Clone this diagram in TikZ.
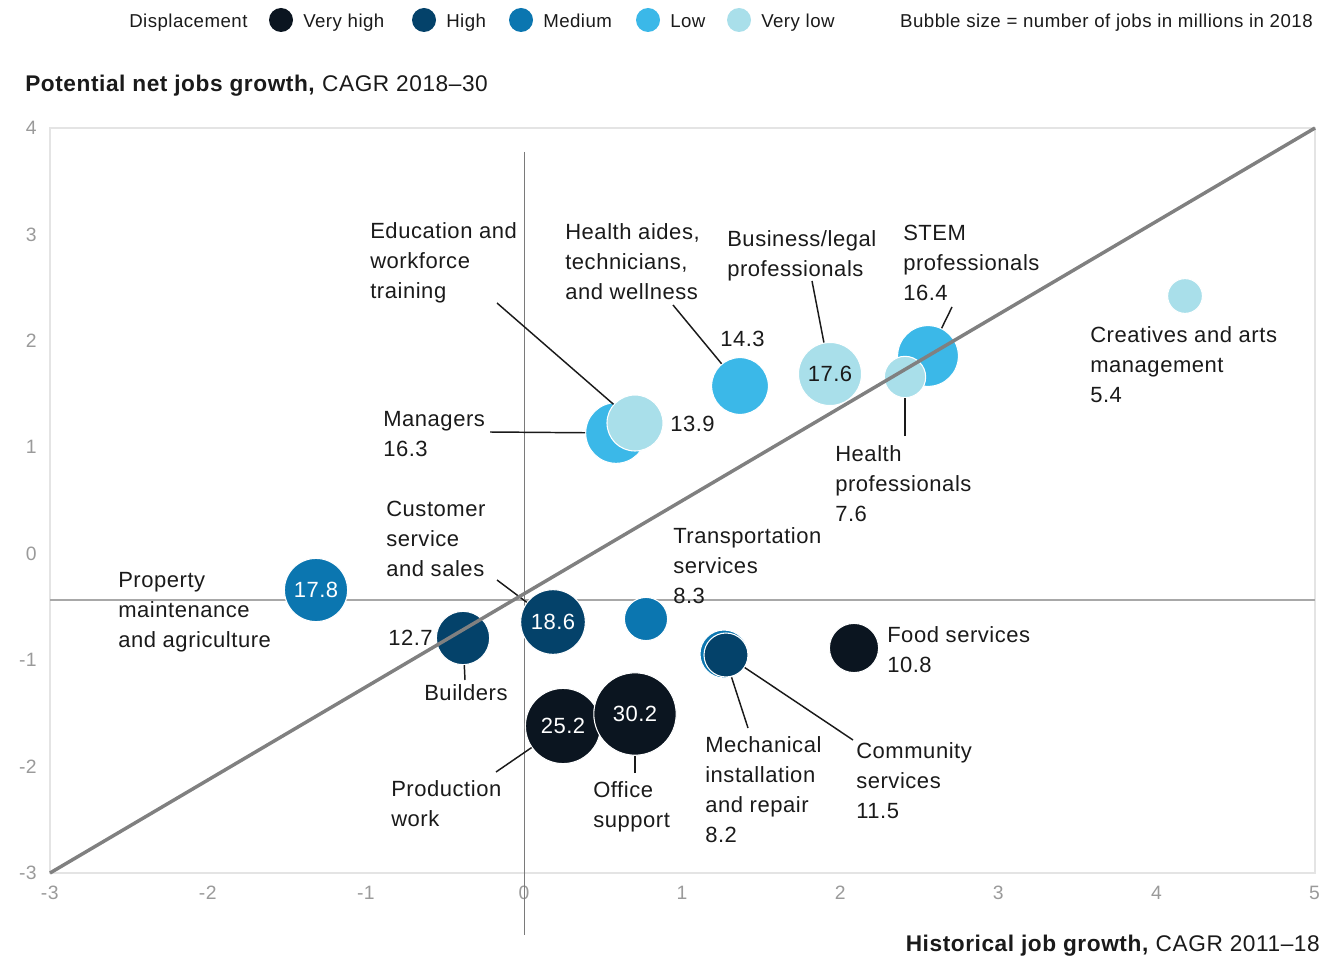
\documentclass[tikz,border=0pt]{standalone}
\usepackage{fontspec}
\setmainfont{Liberation Sans}[LetterSpace=2.5]
\usepackage{tikz}
\usetikzlibrary{positioning}
\definecolor{veryhigh}{HTML}{0B1520}
\definecolor{high}{HTML}{04426A}
\definecolor{medium}{HTML}{0B76B0}
\definecolor{low}{HTML}{3BB8E8}
\definecolor{verylow}{HTML}{A9DFEA}
\definecolor{ink}{HTML}{1A1A1A}
\definecolor{tickgray}{HTML}{9A9A9A}
\definecolor{framegray}{HTML}{E4E4E4}
\definecolor{axisgray}{HTML}{7A7A7A}
\definecolor{zerogray}{HTML}{A8A8A8}
\definecolor{diaggray}{HTML}{808080}
\newcommand{\lblfont}{\fontsize{16.5}{22.5}\selectfont}
\newcommand{\legfont}{\fontsize{14}{17}\selectfont}
\newcommand{\ttlfont}{\fontsize{17}{20}\selectfont}
\newcommand{\tickfont}{\fontsize{14.5}{16}\selectfont}

\begin{document}
\begin{tikzpicture}[x=0.75pt, y=-0.75pt,
    bubble/.style={circle, fill=#1, draw=white, line width=0.8pt, inner sep=0pt, text=white, font=\lblfont},
    lbl/.style={anchor=north west, align=left, inner sep=0pt, text=ink, font=\lblfont},
    leader/.style={draw=ink, line width=1.1pt},
    ticklabel/.style={inner sep=0pt, text=tickgray, font=\tickfont},
    legdot/.style={circle, fill=#1, inner sep=0pt, minimum size=18pt},
    legtext/.style={anchor=base west, inner sep=0pt, text=ink, font=\legfont}]
    \useasboundingbox (0,0) rectangle (1338,959);

    % legend and titles
    \node (displacement) [legtext] at (129,28) {Displacement};
    \node (legveryhigh) [legdot=veryhigh] at (281,20) {};
    \node (legveryhigh1) [legtext] at (303,28) {Very high};
    \node (leghigh) [legdot=high] at (424,20) {};
    \node (leghigh1) [legtext] at (446,28) {High};
    \node (legmedium) [legdot=medium] at (521,20) {};
    \node (legmedium1) [legtext] at (543,28) {Medium};
    \node (leglow) [legdot=low] at (648,20) {};
    \node (leglow1) [legtext] at (670,28) {Low};
    \node (legverylow) [legdot=verylow] at (739,20) {};
    \node (legverylow1) [legtext] at (761,28) {Very low};
    \node (bubblesize) [legtext, anchor=base east] at (1313,28) {Bubble size = number of jobs in millions in 2018};
    \node (ytitle) [anchor=base west, inner sep=0pt, text=ink, font=\ttlfont] at (25,92) {\textbf{Potential net jobs growth,} CAGR 2018--30};
    \node (xtitle) [anchor=base east, inner sep=0pt, text=ink, font=\ttlfont] at (1320,951) {\textbf{Historical job growth,} CAGR 2011--18};

    % frame, ticks and axes
    \draw[framegray, line width=2pt] (50,128) rectangle (1315,873);
    \foreach \v in {-3,...,5}
        \node (xtick\v) [ticklabel] at ({524+158.1*\v},893) {\v};
    \foreach \v in {-3,...,4}
        \node (ytick\v) [ticklabel, anchor=east] at (37,{553.6-106.4*\v}) {\v};
    \coordinate (vtop) at (524,152);
    \coordinate (vbottom) at (524,935);
    \coordinate (hleft) at (50,600);
    \coordinate (hright) at (1315,600);
    \draw[axisgray, line width=0.75pt] (vtop) -- (vbottom);
    \draw[zerogray, line width=1.5pt] (hleft) -- (hright);

    % bubbles
    \node (managers)   [bubble=low, minimum size=45.5pt] at (616,433) {};
    \node (education)  [bubble=verylow, minimum size=42pt] at (635,423) {};
    \node (healthaides) [bubble=low, minimum size=42.6pt] at (740,386) {};
    \node (business)   [bubble=verylow, minimum size=47.3pt, text=ink] at (830,374) {17.6};
    \node (stem)       [bubble=low, minimum size=45.6pt] at (928,356) {};
    \node (healthprof) [bubble=verylow, minimum size=31pt] at (905,377) {};
    \node (creatives)  [bubble=verylow, minimum size=26.1pt] at (1185,296) {};
    \node (property)   [bubble=medium, minimum size=47.4pt] at (316,590) {17.8};
    \node (builders)   [bubble=high, minimum size=40pt] at (463,638) {};
    \node (customer)   [bubble=high, minimum size=48.5pt] at (553,622) {18.6};
    \node (transport)  [bubble=medium, minimum size=32.4pt] at (646,619) {};
    \node (mechanical) [bubble=medium, minimum size=36pt] at (724,654) {};
    \node (community)  [bubble=high, minimum size=33pt] at (726,655) {};
    \node (food)       [bubble=veryhigh, minimum size=36.9pt] at (854,648) {};
    \node (production) [bubble=veryhigh, minimum size=56.4pt] at (563,726) {25.2};
    \node (office)     [bubble=veryhigh, minimum size=61.8pt] at (635,714) {30.2};

    % leader lines
    \coordinate (education1) at (497,303);
    \coordinate (healthaides1) at (673,305);
    \coordinate (business1) at (812,281);
    \coordinate (stem1) at (952,307);
    \coordinate (healthprof1) at (905,436);
    \coordinate (managers1) at (490,432);
    \coordinate (customer1) at (497,580);
    \coordinate (builders1) at (465,680);
    \coordinate (production1) at (496,772);
    \coordinate (office1) at (635,773);
    \coordinate (mechanical1) at (748,728);
    \coordinate (community1) at (853,740);
    \draw[leader] (education1) -- (education);
    \draw[leader] (healthaides1) -- (healthaides);
    \draw[leader] (business1) -- (business);
    \draw[leader] (stem1) -- (stem);
    \draw[leader] (healthprof1) -- (healthprof);
    \draw[leader] (managers1) -- (managers);
    \draw[leader] (customer1) -- (customer);
    \draw[leader] (builders1) -- (builders);
    \draw[leader] (production1) -- (production);
    \draw[leader] (office1) -- (office);
    \draw[leader] (mechanical1) -- (mechanical);
    \draw[leader] (community1) -- (community);

    % diagonal
    \coordinate (diagstart) at (50,873);
    \coordinate (diagend) at (1315,128);
    \draw[diaggray, line width=2.6pt] (diagstart) -- (diagend);

    % labels
    \node (educationtext)   [lbl] at (370,222) {Education and\\workforce\\training};
    \node (healthaidestext) [lbl] at (565,223) {Health aides,\\technicians,\\and wellness};
    \node (businesstext)    [lbl] at (727,230) {Business/legal\\professionals};
    \node (stemtext)        [lbl] at (903,225) {STEM\\professionals\\16.4};
    \node (healthaidesval)  [lbl] at (720,331) {14.3};
    \node (educationval)    [lbl] at (670,416) {13.9};
    \node (managerstext)    [lbl] at (383,411) {Managers\\16.3};
    \node (creativestext)   [lbl] at (1090,326) {Creatives and arts\\management\\5.4};
    \node (healthproftext)  [lbl] at (835,445) {Health\\professionals\\7.6};
    \node (customertext)    [lbl] at (386,501) {Customer\\service\\and sales};
    \node (transporttext)   [lbl] at (673,527) {Transportation\\services\\8.3};
    \node (propertytext)    [lbl] at (118,572) {Property\\maintenance\\and agriculture};
    \node (buildersval)     [lbl] at (388,630) {12.7};
    \node (builderstext)    [lbl] at (424,684) {Builders};
    \node (foodtext)        [lbl] at (887,626) {Food services\\10.8};
    \node (productiontext)  [lbl] at (391,780) {Production\\work};
    \node (officetext)      [lbl] at (593,781) {Office\\support};
    \node (mechanicaltext)  [lbl] at (705,736) {Mechanical\\installation\\and repair\\8.2};
    \node (communitytext)   [lbl] at (856,742) {Community\\services\\11.5};
\end{tikzpicture}
\end{document}
